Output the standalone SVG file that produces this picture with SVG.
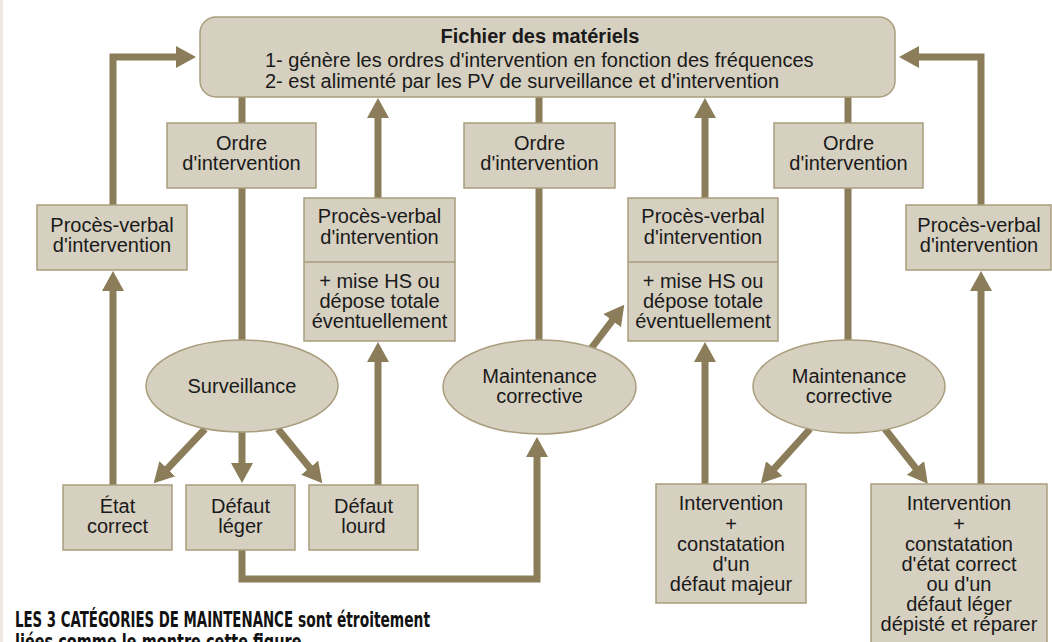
<svg xmlns="http://www.w3.org/2000/svg" width="1052" height="642" viewBox="0 0 1052 642">
<defs>
<style>
.box{fill:#d6d0c1;stroke:#a99d7d;stroke-width:1.5}
.t{font-family:"Liberation Sans",Arial,sans-serif;font-size:20px;fill:#1a1a1a;text-anchor:middle}
.tl{font-family:"Liberation Sans",Arial,sans-serif;font-size:20px;fill:#1a1a1a}
.b{font-weight:bold}
.c{fill:none;stroke:#8b7d59;stroke-width:7;stroke-linejoin:miter}
.cap{font-family:"Liberation Sans Narrow","DejaVu Sans Condensed","Liberation Sans",sans-serif;font-size:21px;font-weight:bold;fill:#111}
</style>
<marker id="ah" markerUnits="userSpaceOnUse" markerWidth="22" markerHeight="24" viewBox="0 -12 22 24" refX="1" refY="0" orient="auto">
<path d="M0,-11 L20,0 L0,11 z" fill="#8b7d59"/>
</marker>
</defs>
<rect x="0" y="0" width="1052" height="642" fill="#ffffff"/>
<rect x="0" y="0" width="3" height="642" fill="#efe8df"/>

<g id="connectors">
<path class="c" d="M242,97 V123"/>
<path class="c" d="M242,188 V345"/>
<path class="c" d="M205,429 L166.7,469.5" marker-end="url(#ah)"/>
<path class="c" d="M242,430 V464" marker-end="url(#ah)"/>
<path class="c" d="M278,429 L310.3,468.5" marker-end="url(#ah)"/>
<path class="c" d="M113,485 V290" marker-end="url(#ah)"/>
<path class="c" d="M113,205 V57 H177" marker-end="url(#ah)"/>
<path class="c" d="M242,550 V579 H537 V456" marker-end="url(#ah)"/>
<path class="c" d="M378,485 V361" marker-end="url(#ah)"/>
<path class="c" d="M378,198 V117" marker-end="url(#ah)"/>
<path class="c" d="M539,97 V123"/>
<path class="c" d="M539,188 V345"/>
<path class="c" d="M590,350 L612.8,319.9" marker-end="url(#ah)"/>
<path class="c" d="M705,484 V361" marker-end="url(#ah)"/>
<path class="c" d="M705,198 V117" marker-end="url(#ah)"/>
<path class="c" d="M848,97 V123"/>
<path class="c" d="M848,188 V345"/>
<path class="c" d="M810,429 L773.6,469.3" marker-end="url(#ah)"/>
<path class="c" d="M885,429 L916.1,468.7" marker-end="url(#ah)"/>
<path class="c" d="M981,484 V290" marker-end="url(#ah)"/>
<path class="c" d="M981,205 V57 H918" marker-end="url(#ah)"/>
</g>

<g id="fichier">
<rect class="box" x="200" y="17" width="695" height="80" rx="16"/>
<text class="t b" x="540" y="43">Fichier des matériels</text>
<text class="tl" x="265" y="67">1- génère les ordres d'intervention en fonction des fréquences</text>
<text class="tl" x="265" y="88">2- est alimenté par les PV de surveillance et d'intervention</text>
</g>

<g id="ordre1">
<rect class="box" x="167" y="123" width="149" height="65"/>
<text class="t" x="241.5" y="150">Ordre</text>
<text class="t" x="241.5" y="170">d'intervention</text>
</g>
<g id="ordre2">
<rect class="box" x="464" y="123" width="151" height="65"/>
<text class="t" x="539.5" y="150">Ordre</text>
<text class="t" x="539.5" y="170">d'intervention</text>
</g>
<g id="ordre3">
<rect class="box" x="774" y="123" width="149" height="65"/>
<text class="t" x="848.5" y="150">Ordre</text>
<text class="t" x="848.5" y="170">d'intervention</text>
</g>

<g id="pv1">
<rect class="box" x="37" y="205" width="150" height="65"/>
<text class="t" x="112" y="232">Procès-verbal</text>
<text class="t" x="112" y="252">d'intervention</text>
</g>
<g id="pv2">
<rect class="box" x="304" y="198" width="151" height="143"/>
<line x1="304" y1="262" x2="455" y2="262" stroke="#a99d7d" stroke-width="1.5"/>
<text class="t" x="379.5" y="223">Procès-verbal</text>
<text class="t" x="379.5" y="244">d'intervention</text>
<text class="t" x="379.5" y="288">+ mise HS ou</text>
<text class="t" x="379.5" y="308">dépose totale</text>
<text class="t" x="379.5" y="328">éventuellement</text>
</g>
<g id="pv3">
<rect class="box" x="628" y="198" width="150" height="143"/>
<line x1="628" y1="262" x2="778" y2="262" stroke="#a99d7d" stroke-width="1.5"/>
<text class="t" x="703" y="223">Procès-verbal</text>
<text class="t" x="703" y="244">d'intervention</text>
<text class="t" x="703" y="288">+ mise HS ou</text>
<text class="t" x="703" y="308">dépose totale</text>
<text class="t" x="703" y="328">éventuellement</text>
</g>
<g id="pv4">
<rect class="box" x="906" y="205" width="145" height="65"/>
<text class="t" x="979" y="232">Procès-verbal</text>
<text class="t" x="979" y="252">d'intervention</text>
</g>

<g id="surveillance">
<ellipse class="box" cx="242" cy="386" rx="96" ry="46"/>
<text class="t" x="242" y="393">Surveillance</text>
</g>
<g id="corrective1">
<ellipse class="box" cx="539.5" cy="387" rx="96.5" ry="47"/>
<text class="t" x="539.5" y="383">Maintenance</text>
<text class="t" x="539.5" y="403">corrective</text>
</g>
<g id="corrective2">
<ellipse class="box" cx="849" cy="386.5" rx="96" ry="46.5"/>
<text class="t" x="849" y="383">Maintenance</text>
<text class="t" x="849" y="403">corrective</text>
</g>

<g id="etat">
<rect class="box" x="63" y="485" width="109" height="65"/>
<text class="t" x="117.5" y="513">État</text>
<text class="t" x="117.5" y="533">correct</text>
</g>
<g id="leger">
<rect class="box" x="186" y="485" width="109" height="65"/>
<text class="t" x="240.5" y="513">Défaut</text>
<text class="t" x="240.5" y="533">léger</text>
</g>
<g id="lourd">
<rect class="box" x="309" y="485" width="109" height="65"/>
<text class="t" x="363.5" y="513">Défaut</text>
<text class="t" x="363.5" y="533">lourd</text>
</g>

<g id="intervention1">
<rect class="box" x="656" y="484" width="150" height="119"/>
<text class="t" x="731" y="510">Intervention</text>
<text class="t" x="731" y="531">+</text>
<text class="t" x="731" y="551">constatation</text>
<text class="t" x="731" y="571">d'un</text>
<text class="t" x="731" y="591">défaut majeur</text>
</g>
<g id="intervention2">
<rect class="box" x="871" y="484" width="176" height="176"/>
<text class="t" x="959" y="510">Intervention</text>
<text class="t" x="959" y="531">+</text>
<text class="t" x="959" y="551">constatation</text>
<text class="t" x="959" y="571">d'état correct</text>
<text class="t" x="959" y="591">ou d'un</text>
<text class="t" x="959" y="611">défaut léger</text>
<text class="t" x="959" y="631">dépisté et réparer</text>
</g>

<g id="caption">
<text class="cap" x="15" y="627" textLength="278" lengthAdjust="spacingAndGlyphs">LES 3 CATÉGORIES DE MAINTENANCE</text>
<text class="cap" x="298" y="627" textLength="132" lengthAdjust="spacingAndGlyphs">sont étroitement</text>
<text class="cap" x="15" y="649" font-size="18" textLength="292" lengthAdjust="spacingAndGlyphs">liées comme le montre cette figure.</text>
</g>
</svg>
